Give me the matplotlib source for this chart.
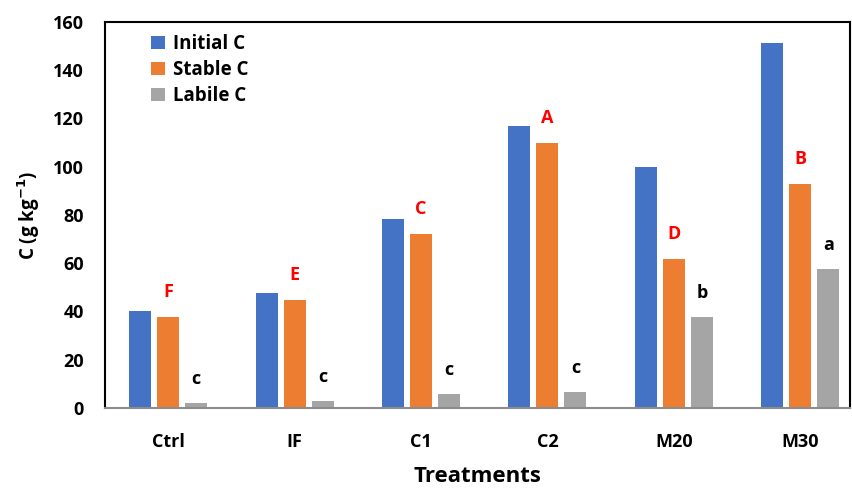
import numpy as np
import matplotlib.pyplot as plt

plt.rcParams['font.family'] = ['Open Sans', 'DejaVu Sans']

treatments = ['Ctrl', 'IF', 'C1', 'C2', 'M20', 'M30']
initial_c = [40.2, 47.7, 78.3, 116.9, 99.9, 151.2]
stable_c = [37.8, 44.6, 72.3, 110.0, 61.8, 93.0]
labile_c = [2.1, 2.9, 5.8, 6.6, 37.9, 57.8]
stable_letters = ['F', 'E', 'C', 'A', 'D', 'B']
labile_letters = ['c', 'c', 'c', 'c', 'b', 'a']

x = np.arange(len(treatments))
w = 0.174
step = 0.221

fig = plt.figure(figsize=(8.53, 4.88), dpi=100)
ax = fig.add_axes([0.123, 0.164, 0.873, 0.791])

ax.bar(x - step, initial_c, w, color='#4472C4', label='Initial C')
ax.bar(x, stable_c, w, color='#ED7D31', label='Stable C')
ax.bar(x + step, labile_c, w, color='#A5A5A5', label='Labile C')

# significance letters
for i in range(len(treatments)):
    ax.annotate(stable_letters[i], (x[i], stable_c[i]), xytext=(0, 18),
                textcoords='offset points', ha='center', va='center',
                color='red', fontsize=13, fontweight='bold')
    ax.annotate(labile_letters[i], (x[i] + step, labile_c[i]), xytext=(0, 17),
                textcoords='offset points', ha='center', va='center',
                color='black', fontsize=13, fontweight='bold')

ax.set_xlim(-0.5, 5.39)
ax.set_ylim(0, 160)
ax.set_yticks(range(0, 161, 20))
ax.set_xticks(x)
ax.set_xticklabels(treatments, fontsize=13, fontweight='bold')
ax.tick_params(axis='y', labelsize=13, length=0, pad=15)
ax.tick_params(axis='x', length=0, pad=18)
for lab in ax.get_yticklabels():
    lab.set_fontweight('bold')

ax.set_ylabel('C (g kg$^{\\mathbf{-1}}$)', fontsize=13.5, fontweight='bold', labelpad=8)
ax.set_xlabel('Treatments', fontsize=16, fontweight='bold', labelpad=11)

for s in ['top', 'left', 'right']:
    ax.spines[s].set_color('black')
    ax.spines[s].set_linewidth(1.5)
ax.spines['bottom'].set_color('#8c8c8c')
ax.spines['bottom'].set_linewidth(1.5)

leg = ax.legend(loc='upper left', bbox_to_anchor=(0.045, 1.0), frameon=False,
                prop={'weight': 'bold', 'size': 13.5}, handlelength=0.75,
                handleheight=0.75, handletextpad=0.45, labelspacing=0.32,
                borderaxespad=0.25)

fig.savefig('out.png', dpi=100)
